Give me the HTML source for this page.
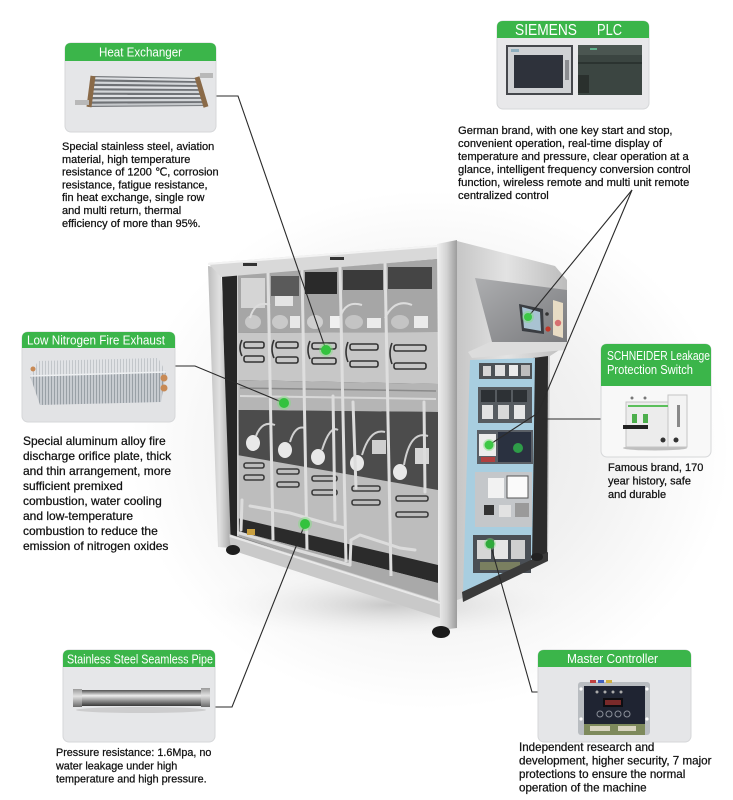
<!DOCTYPE html>
<html><head><meta charset="utf-8"><style>
html,body{margin:0;padding:0;background:#fff;}
svg{display:block;}
text{font-family:"Liberation Sans","DejaVu Sans",sans-serif;}
</style></head><body>
<svg width="733" height="800" viewBox="0 0 733 800" xmlns="http://www.w3.org/2000/svg">
<defs>
<radialGradient id="glow" cx="0.5" cy="0.5" r="0.5">
<stop offset="0" stop-color="#e6e6e6"/><stop offset="0.55" stop-color="#f1f1f1"/><stop offset="1" stop-color="#ffffff"/>
</radialGradient>
<radialGradient id="shad" cx="0.5" cy="0.5" r="0.5">
<stop offset="0" stop-color="#bdbdbd" stop-opacity="0.8"/><stop offset="1" stop-color="#ffffff" stop-opacity="0"/>
</radialGradient>
<linearGradient id="sideG" x1="0" x2="1"><stop offset="0" stop-color="#c6c6c6"/><stop offset="0.45" stop-color="#e3e3e3"/><stop offset="1" stop-color="#bcbcbc"/></linearGradient>
<linearGradient id="postG" x1="0" x2="1"><stop offset="0" stop-color="#f0f0f0"/><stop offset="0.5" stop-color="#d2d2d2"/><stop offset="1" stop-color="#9c9c9c"/></linearGradient>
<linearGradient id="lpostG" x1="0" x2="1"><stop offset="0" stop-color="#bdbdbd"/><stop offset="0.5" stop-color="#e0e0e0"/><stop offset="1" stop-color="#a8a8a8"/></linearGradient>
<linearGradient id="hoodG" x1="0" y1="0" x2="1" y2="1"><stop offset="0" stop-color="#adaeb0"/><stop offset="1" stop-color="#7a7b7e"/></linearGradient>
<linearGradient id="pipeG" x1="0" y1="0" x2="0" y2="1"><stop offset="0" stop-color="#505050"/><stop offset="0.35" stop-color="#eeeeee"/><stop offset="0.65" stop-color="#959595"/><stop offset="1" stop-color="#383838"/></linearGradient>
<linearGradient id="nutG" x1="0" y1="0" x2="0" y2="1"><stop offset="0" stop-color="#9a9a9a"/><stop offset="0.4" stop-color="#e2e2e2"/><stop offset="1" stop-color="#6a6a6a"/></linearGradient>
<pattern id="fins" width="3" height="10" patternUnits="userSpaceOnUse"><rect width="3" height="10" fill="#c7cbd0"/><rect width="1" height="10" fill="#99a0a6"/></pattern>
<pattern id="finsT" width="3" height="10" patternUnits="userSpaceOnUse"><rect width="3" height="10" fill="#e1e3e6"/><rect width="1" height="10" fill="#c2c6ca"/></pattern>
</defs>

<!-- background glow around machine -->
<ellipse cx="430" cy="450" rx="300" ry="260" fill="url(#glow)"/>
<ellipse cx="390" cy="605" rx="200" ry="38" fill="url(#shad)"/>

<!-- ================= MACHINE ================= -->
<!-- side silver -->
<polygon points="457,241 555,266 567,280 567,345 550,356 548,556 540,562 463,598 457,600" fill="url(#sideG)"/>
<!-- hood -->
<polygon points="475,278 567,290 567,342 492,342" fill="url(#hoodG)"/>
<polygon points="490,342 567,342 566,350 472,358 468,352" fill="#dcdcdc"/>
<!-- dark gap right of blue -->
<polygon points="533,358 548,356 547,556 531,563" fill="#2c2c2c"/>
<!-- blue panel -->
<polygon points="470,360 535,358 532,563 463,592" fill="#a8cee0"/>
<rect x="479" y="363" width="53" height="16" fill="#4d5256"/>
<rect x="483" y="366" width="8" height="10" fill="#d6d6d6"/><rect x="495" y="365" width="10" height="11" fill="#e0e0e0"/><rect x="509" y="365" width="9" height="11" fill="#ebebeb"/><rect x="521" y="365" width="9" height="11" fill="#bdbdbd"/>
<rect x="478" y="387" width="54" height="36" fill="#565b60"/>
<rect x="481" y="390" width="14" height="12" fill="#2d3135"/><rect x="497" y="390" width="14" height="12" fill="#2d3135"/><rect x="513" y="390" width="14" height="12" fill="#2d3135"/>
<rect x="482" y="405" width="11" height="14" fill="#e2e2e2"/><rect x="498" y="405" width="11" height="14" fill="#d8d8d8"/><rect x="514" y="405" width="11" height="14" fill="#e6e6e6"/>
<rect x="477" y="430" width="56" height="34" fill="#5a5f66"/>
<rect x="479" y="434" width="17" height="22" fill="#ececec"/>
<rect x="498" y="432" width="33" height="30" fill="#2a3140"/>
<rect x="481" y="457" width="14" height="5" fill="#b04040"/>
<circle cx="518" cy="448" r="5" fill="#2e9c48"/>
<rect x="475" y="472" width="57" height="55" fill="#c4c7ca"/>
<rect x="488" y="478" width="16" height="20" fill="#f2f2f2"/><rect x="507" y="476" width="21" height="22" fill="#fafafa" stroke="#555" stroke-width="1"/>
<rect x="484" y="505" width="10" height="10" fill="#333"/><rect x="499" y="505" width="12" height="12" fill="#e2e2e2"/><rect x="515" y="503" width="14" height="14" fill="#9a9a9a"/>
<rect x="473" y="535" width="58" height="38" fill="#4a4f55"/>
<rect x="477" y="540" width="14" height="19" fill="#d6d6d6"/><rect x="494" y="540" width="14" height="19" fill="#e5e5e5"/><rect x="511" y="540" width="14" height="19" fill="#cfcfcf"/>
<rect x="480" y="562" width="40" height="8" fill="#7a7f60"/>
<!-- side bottom rail -->
<polygon points="462,592 548,552 548,561 463,602" fill="#3a3a3a"/>
<!-- screen -->
<polygon points="519,304 543,309 544,334 522,331" fill="#3a3d42"/>
<polygon points="522,307 540,312 541,331 524,328" fill="#a9c3d2"/>
<circle cx="547" cy="314" r="1.8" fill="#333"/>
<circle cx="548" cy="329" r="2.6" fill="#c0392b"/>
<polygon points="553,300 563,303 563,338 553,335" fill="#e8dcc4"/>
<circle cx="558" cy="323" r="3.2" fill="#d67070"/>

<!-- front face base -->
<polygon points="222,272 438,256 438,602 228,535" fill="#4a4a4a"/>
<!-- top burner band -->
<polygon points="237,275 438,259 438,332 237,333" fill="#a6a6a6"/>
<rect x="305" y="272" width="32" height="22" fill="#2a2a2a"/>
<rect x="343" y="270" width="40" height="20" fill="#3a3a3a"/>
<rect x="388" y="267" width="44" height="22" fill="#454545"/>
<rect x="241" y="278" width="24" height="30" fill="#d5d5d5"/>
<rect x="271" y="276" width="28" height="20" fill="#5a5a5a"/>
<rect x="275" y="296" width="18" height="10" fill="#e4e4e4"/>
<ellipse cx="253" cy="322" rx="8" ry="7" fill="#c9c9c9"/><ellipse cx="280" cy="322" rx="8" ry="7" fill="#c9c9c9"/>
<ellipse cx="315" cy="322" rx="8" ry="7" fill="#cfcfcf"/><ellipse cx="354" cy="322" rx="9" ry="7" fill="#c4c4c4"/>
<ellipse cx="400" cy="322" rx="9" ry="7" fill="#c4c4c4"/>
<rect x="290" y="316" width="10" height="12" fill="#e8e8e8"/><rect x="330" y="316" width="10" height="12" fill="#f0f0f0"/>
<rect x="367" y="318" width="14" height="10" fill="#ebebeb"/><rect x="414" y="316" width="14" height="12" fill="#ebebeb"/>
<path d="M250 318 Q255 300 270 305 M340 318 Q345 300 362 305 M385 318 Q395 298 412 305" stroke="#dcdcdc" stroke-width="2" fill="none"/>
<!-- handle band -->
<polygon points="237,333 438,332 438,384 237,380" fill="#c7c7c7"/>
<!-- middle band -->
<polygon points="237,380 438,384 438,412 237,410" fill="#b5b5b5"/>
<line x1="240" y1="388" x2="436" y2="391" stroke="#8a8a8a" stroke-width="1.5"/>
<line x1="240" y1="396" x2="436" y2="399" stroke="#d8d8d8" stroke-width="2"/>
<!-- lower compartments -->
<polygon points="237,410 438,412 438,490 237,455" fill="#4c4c4c"/>
<ellipse cx="253" cy="443" rx="7" ry="8" fill="#e8e8e8"/><ellipse cx="285" cy="450" rx="7" ry="8" fill="#e8e8e8"/>
<ellipse cx="318" cy="457" rx="7" ry="8" fill="#e8e8e8"/><ellipse cx="357" cy="463" rx="7" ry="8" fill="#e8e8e8"/>
<ellipse cx="400" cy="472" rx="7" ry="8" fill="#e8e8e8"/>
<path d="M256 436 Q262 420 275 425 M290 442 Q295 425 305 428 M322 450 Q330 425 338 430 M362 455 Q370 428 385 432 M404 465 Q410 430 428 436" stroke="#d0d0d0" stroke-width="2" fill="none"/>
<rect x="372" y="440" width="14" height="14" fill="#cfcfcf"/><rect x="415" y="448" width="14" height="16" fill="#d6d6d6"/>
<!-- lower handle + light band (down to floor) -->
<polygon points="237,455 438,490 438,602 237,536" fill="#bdbdbd"/>
<!-- dark slots -->
<polygon points="237,518 438,565 438,583 237,531" fill="#2b2b2b"/>
<!-- floor plate -->
<polygon points="237,531 438,583 438,602 237,536" fill="#a9a9a9"/>
<!-- column separators -->
<line x1="268" y1="272" x2="273" y2="540" stroke="#dedede" stroke-width="3"/>
<line x1="302" y1="270" x2="307" y2="550" stroke="#dedede" stroke-width="3"/>
<line x1="340" y1="267" x2="346" y2="562" stroke="#dedede" stroke-width="3"/>
<line x1="385" y1="263" x2="391" y2="576" stroke="#dedede" stroke-width="3"/>
<line x1="237" y1="275" x2="238" y2="536" stroke="#cfcfcf" stroke-width="2"/>
<!-- handles -->
<g fill="none" stroke="#333" stroke-width="1.6">
<rect x="244" y="342" width="20" height="6" rx="2"/><rect x="244" y="356" width="20" height="6" rx="2"/>
<rect x="276" y="342" width="22" height="6" rx="2"/><rect x="276" y="357" width="22" height="6" rx="2"/>
<rect x="312" y="343" width="24" height="6" rx="2"/><rect x="312" y="358" width="24" height="6" rx="2"/>
<rect x="350" y="344" width="28" height="6" rx="2"/><rect x="350" y="361" width="28" height="6" rx="2"/>
<rect x="394" y="345" width="32" height="6" rx="2"/><rect x="394" y="363" width="32" height="6" rx="2"/>
<path d="M242 340 q-4 8 0 16 M274 340 q-4 9 0 18 M310 341 q-4 9 0 18 M348 342 q-4 10 0 20 M392 343 q-4 10 0 21"/>
</g>
<g fill="none" stroke="#3c3c3c" stroke-width="1.6">
<rect x="244" y="463" width="20" height="5" rx="2"/><rect x="244" y="475" width="20" height="5" rx="2"/>
<rect x="277" y="469" width="22" height="5" rx="2"/><rect x="277" y="482" width="22" height="5" rx="2"/>
<rect x="312" y="476" width="25" height="5" rx="2"/><rect x="312" y="490" width="25" height="5" rx="2"/>
<rect x="352" y="486" width="28" height="5" rx="2"/><rect x="352" y="500" width="28" height="5" rx="2"/>
<rect x="396" y="496" width="32" height="5" rx="2"/><rect x="396" y="512" width="32" height="5" rx="2"/>
</g>
<!-- pipes -->
<g fill="none" stroke="#dcdcdc" stroke-width="3" stroke-linecap="round">
<path d="M250 506 L290 513 L332 525 L345 528"/>
<path d="M236 532 L300 551 L350 565"/>
<path d="M350 565 L351 540 L360 535 L400 548 L415 550"/>
<path d="M333 396 L335 520"/>
<path d="M353 402 L356 488"/>
<path d="M424 402 L425 492"/>
<path d="M242 500 L241 530"/>
</g>
<rect x="247" y="529" width="8" height="6" fill="#c9a040"/>
<!-- left post -->
<polygon points="222,272 237,274 237,540 229,545" fill="#262626"/>
<polygon points="208,266 221,268 231,548 218,547" fill="url(#lpostG)"/>
<!-- top rail -->
<polygon points="208,263 438,245 438,259 221,277" fill="#d9d9d9"/>
<line x1="208" y1="264" x2="438" y2="246" stroke="#f3f3f3" stroke-width="2"/>
<rect x="243" y="263" width="14" height="3" fill="#333"/><rect x="330" y="257" width="14" height="3" fill="#333"/>
<!-- bottom rail -->
<polygon points="229,534 440,601 440,618 231,550" fill="#c9c9c9"/>
<line x1="230" y1="536" x2="440" y2="603" stroke="#e8e8e8" stroke-width="2"/>
<!-- right corner post -->
<polygon points="437,244 457,240 457,628 440,630" fill="url(#postG)"/>
<!-- feet -->
<ellipse cx="233" cy="550" rx="7" ry="5" fill="#1e1e1e"/>
<ellipse cx="441" cy="632" rx="9" ry="6" fill="#1b1b1b"/>
<ellipse cx="537" cy="557" rx="6" ry="4" fill="#222"/>

<!-- ================= CONNECTORS ================= -->
<g fill="none" stroke="#2a2a2a" stroke-width="1.1">
<polyline points="216,96 238,96 326,350"/>
<polyline points="175,366 195,366 284,403"/>
<polyline points="215,707 232,707 305,524"/>
<polyline points="538,692 532,692 490,543"/>
<polyline points="632,190 528,317"/>
<polyline points="632,190 538,413 489,445"/>
<polyline points="601,419 542,419"/>
</g>
<!-- green dots -->
<g>
<circle cx="326" cy="350" r="7" fill="#7fe07f" opacity="0.45"/><circle cx="326" cy="350" r="5" fill="#33c23e"/>
<circle cx="284" cy="403" r="7" fill="#7fe07f" opacity="0.45"/><circle cx="284" cy="403" r="5" fill="#33c23e"/>
<circle cx="305" cy="524" r="7" fill="#7fe07f" opacity="0.45"/><circle cx="305" cy="524" r="5" fill="#33c23e"/>
<circle cx="528" cy="317" r="6" fill="#7fe07f" opacity="0.45"/><circle cx="528" cy="317" r="4" fill="#3dc846"/>
<circle cx="489" cy="445" r="6" fill="#7fe07f" opacity="0.45"/><circle cx="489" cy="445" r="4.5" fill="#3dc846"/>
<circle cx="490" cy="544" r="6" fill="#7fe07f" opacity="0.4"/><circle cx="490" cy="544" r="4.5" fill="#2faa3c"/>
</g>

<!-- ================= BOXES ================= -->
<!-- Heat Exchanger -->
<rect x="65" y="43" width="151" height="89" rx="6" fill="#e5e6e8" stroke="#d6d7d9"/>
<path d="M65 61 V49 Q65 43 71 43 H210 Q216 43 216 49 V61 Z" fill="#3bb54a"/>
<text x="99" y="56.5" font-size="12.5" fill="#fff" textLength="83" lengthAdjust="spacingAndGlyphs">Heat Exchanger</text>
<g>
<polygon points="92,76 198,78 207,106 88,107" fill="#6f7276"/>
<g stroke-width="2.2">
<line x1="91.7" y1="78.2" x2="198.6" y2="80" stroke="#dfe1e4"/>
<line x1="91.1" y1="82.6" x2="199.9" y2="84" stroke="#d3d6d9"/>
<line x1="90.6" y1="87.1" x2="201.2" y2="88" stroke="#dfe1e4"/>
<line x1="90" y1="91.5" x2="202.5" y2="92" stroke="#d3d6d9"/>
<line x1="89.4" y1="95.9" x2="203.8" y2="96" stroke="#dfe1e4"/>
<line x1="88.9" y1="100.4" x2="205.1" y2="100" stroke="#d3d6d9"/>
<line x1="88.3" y1="104.8" x2="206.4" y2="104" stroke="#c5c8cb"/>
</g>
<line x1="93" y1="76" x2="89" y2="107" stroke="#8a6a48" stroke-width="5"/>
<line x1="197" y1="77" x2="206" y2="107" stroke="#8a6a48" stroke-width="5"/>
<rect x="75" y="100" width="14" height="5" fill="#b8b8b8"/>
<rect x="200" y="73" width="13" height="5" fill="#b8b8b8"/>
</g>
<text font-size="11" fill="#111" stroke="#111" stroke-width="0.25">
<tspan x="62" y="150">Special stainless steel, aviation</tspan>
<tspan x="62" y="162.8">material, high temperature</tspan>
<tspan x="62" y="175.6">resistance of 1200 ℃, corrosion</tspan>
<tspan x="62" y="188.4">resistance, fatigue resistance,</tspan>
<tspan x="62" y="201.2">fin heat exchange, single row</tspan>
<tspan x="62" y="214">and multi return, thermal</tspan>
<tspan x="62" y="226.8">efficiency of more than 95%.</tspan>
</text>

<!-- SIEMENS PLC -->
<rect x="497" y="21" width="152" height="88" rx="6" fill="#e8e8ea" stroke="#d6d7d9"/>
<path d="M497 38 V27 Q497 21 503 21 H643 Q649 21 649 27 V38 Z" fill="#3bb54a"/>
<text x="515" y="35" font-size="15.5" fill="#fff" textLength="62" lengthAdjust="spacingAndGlyphs">SIEMENS</text>
<text x="597" y="35" font-size="15.5" fill="#fff" textLength="25" lengthAdjust="spacingAndGlyphs">PLC</text>
<rect x="506" y="45" width="67" height="50" fill="#45474c"/>
<rect x="508" y="47" width="63" height="46" fill="#cfd1d4"/>
<rect x="514" y="55" width="49" height="33" fill="#2e323b"/>
<rect x="511" y="49" width="8" height="3" fill="#8fb0c0"/>
<rect x="565" y="60" width="4" height="20" fill="#8a8c90"/>
<rect x="578" y="45" width="64" height="50" fill="#3b4541"/>
<rect x="578" y="45" width="64" height="10" fill="#4b5651"/>
<rect x="578" y="62" width="64" height="2" fill="#2b3330"/>
<rect x="578" y="75" width="11" height="18" fill="#2a302d"/>
<rect x="590" y="48" width="7" height="2" fill="#5fb08a"/>

<text font-size="11.2" fill="#111" stroke="#111" stroke-width="0.25">
<tspan x="458" y="134">German brand, with one key start and stop,</tspan>
<tspan x="458" y="147">convenient operation, real-time display of</tspan>
<tspan x="458" y="160">temperature and pressure, clear operation at a</tspan>
<tspan x="458" y="173">glance, intelligent frequency conversion control</tspan>
<tspan x="458" y="186">function, wireless remote and multi unit remote</tspan>
<tspan x="458" y="199">centralized control</tspan>
</text>

<!-- Low Nitrogen -->
<rect x="22" y="332" width="153" height="90" rx="6" fill="#e2e3e5" stroke="#d6d7d9"/>
<path d="M22 348 V338 Q22 332 28 332 H169 Q175 332 175 338 V348 Z" fill="#3bb54a"/>
<text x="27" y="344.5" font-size="12.5" fill="#fff" textLength="138" lengthAdjust="spacingAndGlyphs">Low Nitrogen Fire Exhaust</text>
<polygon points="38,361 158,358 166,372 30,376" fill="url(#finsT)"/>
<polygon points="30,376 166,372 161,402 40,405" fill="url(#fins)"/>
<line x1="30" y1="376" x2="166" y2="372" stroke="#eef0f2" stroke-width="1.5"/>
<circle cx="164" cy="378" r="3.5" fill="#c88a55"/>
<circle cx="164" cy="388" r="3.5" fill="#c88a55"/>
<circle cx="33" cy="369" r="2.5" fill="#c88a55"/>
<text font-size="12" fill="#111" stroke="#111" stroke-width="0.25">
<tspan x="23" y="445">Special aluminum alloy fire</tspan>
<tspan x="23" y="460">discharge orifice plate, thick</tspan>
<tspan x="23" y="475">and thin arrangement, more</tspan>
<tspan x="23" y="490">sufficient premixed</tspan>
<tspan x="23" y="505">combustion, water cooling</tspan>
<tspan x="23" y="520">and low-temperature</tspan>
<tspan x="23" y="535">combustion to reduce the</tspan>
<tspan x="23" y="550">emission of nitrogen oxides</tspan>
</text>

<!-- SCHNEIDER -->
<rect x="601" y="344" width="110" height="113" rx="6" fill="#f8f8f8" stroke="#d6d7d9"/>
<path d="M601 386 V350 Q601 344 607 344 H705 Q711 344 711 350 V386 Z" fill="#3bb54a"/>
<text x="607" y="360" font-size="13" fill="#fff" textLength="103" lengthAdjust="spacingAndGlyphs">SCHNEIDER Leakage</text>
<text x="607" y="374" font-size="13" fill="#fff" textLength="86" lengthAdjust="spacingAndGlyphs">Protection Switch</text>
<ellipse cx="655" cy="448" rx="32" ry="2.5" fill="#9a9a9a" opacity="0.6"/>
<rect x="626" y="402" width="44" height="45" fill="#ececec" stroke="#c4c4c4"/>
<rect x="668" y="395" width="19" height="52" fill="#f3f3f3" stroke="#c4c4c4"/>
<rect x="628" y="405" width="40" height="2" fill="#5bbf5b"/>
<rect x="632" y="414" width="5" height="9" fill="#4cae4c"/>
<rect x="643" y="414" width="5" height="9" fill="#4cae4c"/>
<rect x="623" y="425" width="25" height="4" fill="#222"/>
<circle cx="632" cy="398" r="1.5" fill="#777"/><circle cx="645" cy="398" r="1.5" fill="#777"/>
<circle cx="663" cy="440" r="2.5" fill="#333"/><circle cx="676" cy="440" r="2.5" fill="#333"/>
<rect x="677" y="405" width="3" height="22" fill="#888"/>
<text font-size="11" fill="#111" stroke="#111" stroke-width="0.25">
<tspan x="608" y="471">Famous brand, 170</tspan>
<tspan x="608" y="484.5">year history, safe</tspan>
<tspan x="608" y="498">and durable</tspan>
</text>

<!-- Stainless Steel Pipe -->
<rect x="63" y="650" width="152" height="92" rx="6" fill="#e6e7e9" stroke="#d6d7d9"/>
<path d="M63 667 V656 Q63 650 69 650 H209 Q215 650 215 656 V667 Z" fill="#3bb54a"/>
<text x="67" y="663.3" font-size="12.5" fill="#fff" textLength="146" lengthAdjust="spacingAndGlyphs">Stainless Steel Seamless Pipe</text>
<ellipse cx="141" cy="710" rx="65" ry="3" fill="#bbb" opacity="0.6"/>
<rect x="80" y="690" width="123" height="16" fill="url(#pipeG)"/>
<rect x="73" y="689" width="9" height="18" fill="url(#nutG)"/>
<rect x="201" y="688" width="9" height="19" fill="url(#nutG)"/>
<text font-size="10.8" fill="#111" stroke="#111" stroke-width="0.25">
<tspan x="56" y="756">Pressure resistance: 1.6Mpa, no</tspan>
<tspan x="56" y="769.3">water leakage under high</tspan>
<tspan x="56" y="782.5">temperature and high pressure.</tspan>
</text>

<!-- Master Controller -->
<rect x="538" y="650" width="153" height="92" rx="6" fill="#e5e6e8" stroke="#d6d7d9"/>
<path d="M538 667 V656 Q538 650 544 650 H685 Q691 650 691 656 V667 Z" fill="#3bb54a"/>
<text x="567" y="662.8" font-size="12.5" fill="#fff" textLength="91" lengthAdjust="spacingAndGlyphs">Master Controller</text>
<rect x="578" y="682" width="72" height="53" rx="3" fill="#b9bdc1"/>
<rect x="584" y="686" width="61" height="38" fill="#1f2432"/>
<rect x="590" y="680" width="6" height="3" fill="#c04040"/><rect x="598" y="680" width="6" height="3" fill="#4060c0"/><rect x="606" y="680" width="6" height="3" fill="#d0b040"/>
<rect x="603" y="698" width="20" height="9" fill="#0e0e12"/>
<rect x="605" y="700" width="16" height="5" fill="#7a2a2a"/>
<circle cx="597" cy="692" r="1.5" fill="#aaa"/><circle cx="605" cy="692" r="1.5" fill="#aaa"/><circle cx="613" cy="692" r="1.5" fill="#aaa"/><circle cx="621" cy="692" r="1.5" fill="#aaa"/>
<g fill="none" stroke="#8a8f99" stroke-width="1"><circle cx="600" cy="714" r="3"/><circle cx="609" cy="714" r="3"/><circle cx="618" cy="714" r="3"/><circle cx="627" cy="714" r="3"/></g>
<circle cx="581" cy="689" r="1.6" fill="#fff"/><circle cx="647" cy="689" r="1.6" fill="#fff"/><circle cx="581" cy="719" r="1.6" fill="#fff"/><circle cx="647" cy="719" r="1.6" fill="#fff"/>
<rect x="584" y="724" width="61" height="11" fill="#7e8a5c"/>
<rect x="590" y="726" width="20" height="5" fill="#d8d4c0"/><rect x="618" y="726" width="18" height="5" fill="#d8d4c0"/>
<text font-size="11.6" fill="#111" stroke="#111" stroke-width="0.25">
<tspan x="519" y="751">Independent research and</tspan>
<tspan x="519" y="764.5">development, higher security, 7 major</tspan>
<tspan x="519" y="778">protections to ensure the normal</tspan>
<tspan x="519" y="791.3">operation of the machine</tspan>
</text>
</svg>
</body></html>
